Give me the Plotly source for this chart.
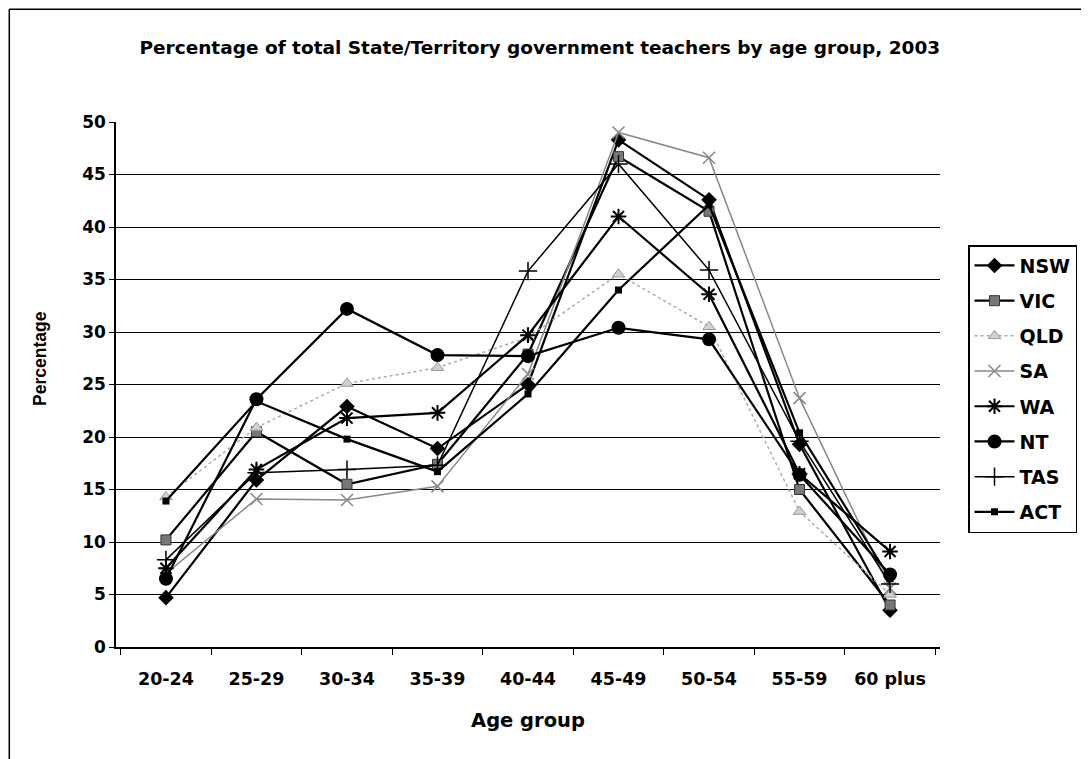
import plotly.graph_objects as go

age_groups = ["20-24", "25-29", "30-34", "35-39", "40-44", "45-49", "50-54", "55-59", "60 plus"]

nsw = [4.7, 15.9, 22.9, 18.9, 25.0, 48.3, 42.6, 19.3, 3.5]
vic = [10.2, 20.5, 15.5, 17.4, 27.9, 46.7, 41.5, 15.0, 4.0]
qld = [14.3, 20.9, 25.1, 26.6, 29.5, 35.5, 30.5, 12.9, 5.0]
sa = [7.0, 14.1, 14.0, 15.3, 26.0, 49.0, 46.6, 23.7, 5.6]
wa = [7.5, 16.9, 21.8, 22.3, 29.7, 41.0, 33.6, 16.5, 9.1]
nt = [6.5, 23.6, 32.2, 27.8, 27.7, 30.4, 29.3, 16.4, 6.9]
tas = [8.3, 16.6, 16.9, 17.3, 35.8, 46.0, 35.9, 19.6, 6.0]
act = [13.9, 23.4, 19.8, 16.7, 24.1, 34.0, 42.1, 20.4, 6.5]

series = [
    ("NSW", nsw, dict(color="black", width=2.2), dict(symbol="diamond", size=12, color="black")),
    ("VIC", vic, dict(color="black", width=2.2), dict(symbol="square", size=10, color="#777777", line=dict(color="#333333", width=1))),
    ("QLD", qld, dict(color="#aaaaaa", width=1.5, dash="dot"), dict(symbol="triangle-up", size=11, color="#d0d0d0", line=dict(color="#999999", width=1))),
    ("SA", sa, dict(color="#888888", width=1.5), dict(symbol="x-thin-open", size=12, line=dict(color="#777777", width=1.5))),
    ("WA", wa, dict(color="black", width=2.2), dict(symbol="asterisk-open", size=13, line=dict(color="black", width=2))),
    ("NT", nt, dict(color="black", width=2.2), dict(symbol="circle", size=14, color="black")),
    ("TAS", tas, dict(color="black", width=1.5), dict(symbol="cross-thin-open", size=13, line=dict(color="black", width=1.5))),
    ("ACT", act, dict(color="black", width=2.2), dict(symbol="square", size=7, color="black")),
]

fig = go.Figure()
for name, vals, ln, mk in series:
    fig.add_trace(go.Scatter(
        x=age_groups, y=vals, name=name, mode="lines+markers",
        line=ln, marker=mk, legendgroup=name,
    ))

font_family = "DejaVu Sans, Arial, sans-serif"

fig.update_layout(
    width=1081, height=751,
    paper_bgcolor="white", plot_bgcolor="white",
    margin=dict(l=108, r=147, t=114, b=112),
    font=dict(family=font_family, size=17, color="black", weight="bold"),
    title=dict(
        text="Percentage of total State/Territory government teachers by age group, 2003",
        x=0.492, xanchor="center", y=0.948, yanchor="middle",
        font=dict(family=font_family, size=18.5, color="black", weight="bold"),
    ),
    xaxis=dict(
        type="category", showgrid=False, showline=True, linecolor="black", linewidth=1.5,
        ticks="outside", tickson="boundaries", ticklen=6, tickcolor="black",
        ticklabelstandoff=15,
        title=dict(text="Age group", font=dict(size=19.5, weight="bold"), standoff=26),
        tickfont=dict(size=17.5, weight="bold"),
    ),
    yaxis=dict(
        range=[0, 50], dtick=5, showgrid=True, gridcolor="black", gridwidth=1,
        showline=True, linecolor="black", linewidth=1.5, zeroline=False,
        ticks="outside", ticklen=5, tickcolor="black",
        tickfont=dict(size=17, weight="bold"),
    ),
    legend=dict(
        x=1.034, y=0.7655, xanchor="left", yanchor="top",
        bordercolor="black", borderwidth=1.5, bgcolor="white",
        font=dict(size=19, weight="bold"),
        tracegroupgap=7.5, itemwidth=40,
    ),
    annotations=[
        dict(text="Percentage", xref="paper", yref="paper", x=-0.092, y=0.549,
             xanchor="center", yanchor="middle", textangle=-90, showarrow=False,
             font=dict(size=17.5, weight="bold", family="Liberation Sans, Arial, sans-serif")),
    ],
    shapes=[
        dict(type="line", xref="paper", yref="paper", x0=-0.1295, x1=1.5, y0=1.215, y1=1.215,
             line=dict(color="black", width=1.5)),
        dict(type="line", xref="paper", yref="paper", x0=-0.1295, x1=-0.1295, y0=-0.5, y1=1.215,
             line=dict(color="black", width=1.5)),
    ],
)

fig.write_html("out.html")
